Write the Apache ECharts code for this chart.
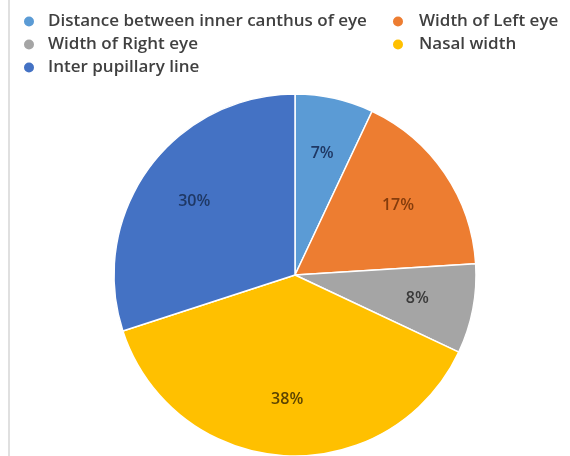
<!DOCTYPE html>
<html>
<head>
<meta charset="utf-8">
<script src="https://cdn.jsdelivr.net/npm/echarts@6/dist/echarts.min.js"></script>
<style>html,body{margin:0;padding:0;background:#fff;}#c{width:570px;height:456px;}</style>
</head>
<body>
<div id="c"></div>
<script>
const categories = ["Distance between inner canthus of eye", "Width of Left eye", "Width of Right eye", "Nasal width", "Inter pupillary line"];
const values = [7, 17, 8, 38, 30];
const colors = ["#5B9BD5", "#ED7D31", "#A5A5A5", "#FFC000", "#4472C4"];
const labelColors = ["#1F3864", "#843C0C", "#3A3A3A", "#5C4400", "#1F3864"];
const leftLegend = ["Distance between inner canthus of eye", "Width of Right eye", "Inter pupillary line"];
const rightLegend = ["Width of Left eye", "Nasal width"];

const chart = echarts.init(document.getElementById('c'), null, {renderer: 'canvas'});
const legendItem = n => ({name: n, itemStyle: {color: colors[categories.indexOf(n)]}});
const legendCommon = {
  orient: 'vertical', icon: 'circle', itemWidth: 12, itemHeight: 12, itemGap: 6,
  selectedMode: false,
  textStyle: {fontFamily: 'Open Sans', fontSize: 17, fontWeight: 600, color: '#404040', lineHeight: 17}
};
chart.setOption({
  animation: false,
  legend: [
    Object.assign({}, legendCommon, {left: 17, top: 8, data: leftLegend.map(legendItem),
      textStyle: Object.assign({}, legendCommon.textStyle, {padding: [0, 0, 0, 8]})}),
    Object.assign({}, legendCommon, {left: 386, top: 8, data: rightLegend.map(legendItem),
      textStyle: Object.assign({}, legendCommon.textStyle, {padding: [0, 0, 0, 10]})})
  ],
  graphic: [{type: 'line', shape: {x1: 9, y1: 0, x2: 9, y2: 456}, style: {stroke: '#e0e0e0', lineWidth: 2}}],
  series: [
    {
      type: 'pie', center: [295, 275], radius: 181, startAngle: 90, clockwise: true,
      label: {show: false}, labelLine: {show: false},
      itemStyle: {borderColor: '#fff', borderWidth: 1.5},
      emphasis: {disabled: true},
      data: categories.map((n, i) => ({name: n, value: values[i], itemStyle: {color: colors[i]}}))
    },
    {
      type: 'pie', center: [295, 275], radius: [62, 181], startAngle: 90, clockwise: true,
      silent: true, z: 3,
      itemStyle: {color: 'rgba(0,0,0,0)', borderWidth: 0},
      labelLine: {show: false},
      emphasis: {disabled: true},
      label: {show: true, position: 'inside', fontFamily: 'Open Sans', fontSize: 16, fontWeight: 600, formatter: p => p.value + '%'},
      data: categories.map((n, i) => ({name: n, value: values[i], label: {color: labelColors[i]}}))
    }
  ]
});
</script>
</body>
</html>
